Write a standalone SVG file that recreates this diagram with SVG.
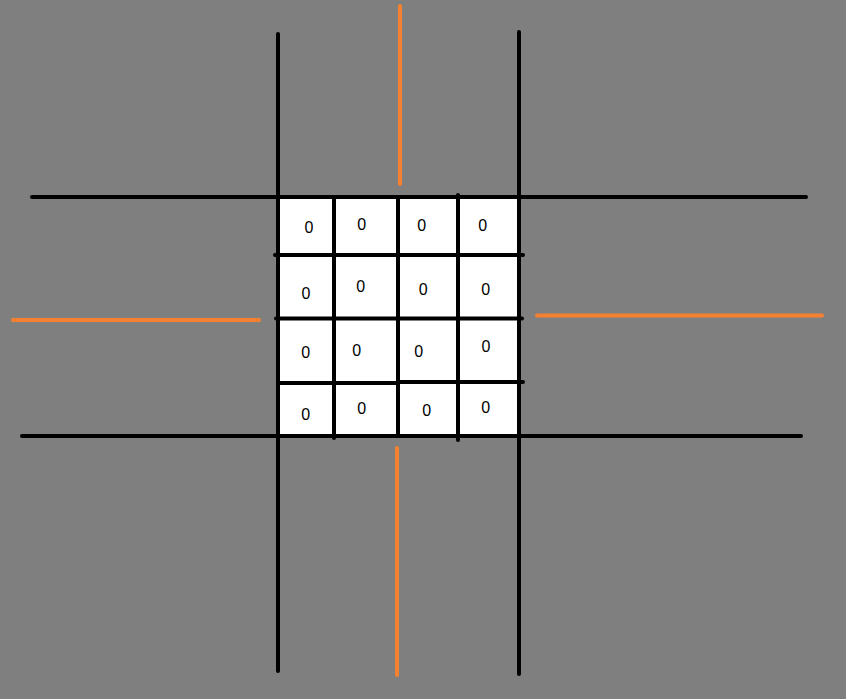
<svg xmlns="http://www.w3.org/2000/svg" width="846" height="699" viewBox="0 0 846 699">
  <style>
    .bk { stroke: #000000; stroke-width: 4; stroke-linecap: round; fill: none; }
    .or { stroke: #f58130; stroke-width: 4; stroke-linecap: round; fill: none; }
    .z { font-family: "Liberation Sans", Arial, sans-serif; font-size: 16px; fill: #000000; text-anchor: middle; }
  </style>
  <rect x="0" y="0" width="846" height="699" fill="#7f7f7f"/>
  <g id="board">
    <rect x="278" y="197" width="241" height="239" fill="#ffffff"/>
  </g>
  <g id="connectors">
    <line class="bk" x1="278" y1="34" x2="278" y2="671"/>
    <line class="bk" x1="519" y1="32" x2="519" y2="674"/>
    <line class="bk" x1="32" y1="197" x2="806" y2="197"/>
    <line class="bk" x1="22" y1="436" x2="801" y2="436"/>
    <line class="bk" x1="334" y1="197" x2="334" y2="438"/>
    <line class="bk" x1="398" y1="197" x2="398" y2="436"/>
    <line class="bk" x1="458" y1="195" x2="458" y2="440"/>
    <line class="bk" x1="275" y1="255" x2="523" y2="255"/>
    <line class="bk" x1="276" y1="318.5" x2="522" y2="318.5"/>
    <line class="bk" x1="279" y1="383" x2="398" y2="383"/>
    <line class="bk" x1="398" y1="382" x2="523" y2="382"/>
    <line class="or" x1="400" y1="6" x2="400" y2="184"/>
    <line class="or" x1="397" y1="448" x2="397" y2="675"/>
    <line class="or" x1="13" y1="320" x2="259" y2="320"/>
    <line class="or" x1="537" y1="315.5" x2="822" y2="315.5"/>
  </g>
  <g id="cells">
    <text class="z" x="309" y="232.5">0</text>
    <text class="z" x="361.7" y="230">0</text>
    <text class="z" x="421.7" y="231">0</text>
    <text class="z" x="482.7" y="231">0</text>
    <text class="z" x="306" y="299">0</text>
    <text class="z" x="360.7" y="291.5">0</text>
    <text class="z" x="423.3" y="295">0</text>
    <text class="z" x="485.7" y="295">0</text>
    <text class="z" x="305.7" y="357.5">0</text>
    <text class="z" x="356.7" y="356">0</text>
    <text class="z" x="418.7" y="356.5">0</text>
    <text class="z" x="486" y="352">0</text>
    <text class="z" x="305.7" y="420">0</text>
    <text class="z" x="361.7" y="413.5">0</text>
    <text class="z" x="426.7" y="416">0</text>
    <text class="z" x="485.7" y="413">0</text>
  </g>
</svg>
